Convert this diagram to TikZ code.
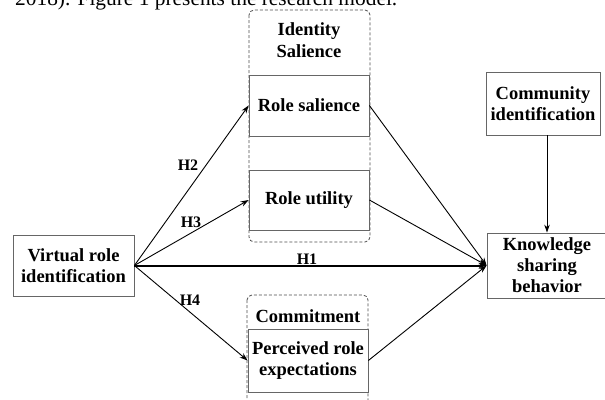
\documentclass[tikz,border=0pt]{standalone}
\usepackage{fontspec}
\setmainfont{Liberation Serif}
\usetikzlibrary{arrows.meta,calc}
\begin{document}
\begin{tikzpicture}[x=1pt,y=-1pt,
  box/.style={draw=black!60,line width=0.8pt,fill=white,minimum width=#1,inner sep=0pt,align=center,
    font=\bfseries\fontsize{18.5}{21}\selectfont},
  grp/.style={draw=black!70,dash pattern=on 3pt off 2pt,line width=0.8pt,rounded corners=5pt},
  conn/.style={line width=0.9pt,-{Stealth[length=8pt,width=5.5pt]}},
  hlab/.style={font=\bfseries\fontsize{16}{18}\selectfont,inner sep=0pt}]
\useasboundingbox (0,0) rectangle (605,399);
\node[anchor=base west,inner sep=0pt,font=\fontsize{21.4}{24}\selectfont] (cap) at (15,5) {2018). Figure 1 presents the research model.};
% groups
\draw[grp] (249,10) rectangle (370,242);
\draw[grp] (247,295) rectangle (368,420);
\node[align=center,inner sep=0pt,font=\bfseries\fontsize{18.5}{22}\selectfont] (idsal) at (309,40) {Identity\\Salience};
\node[inner sep=0pt,font=\bfseries\fontsize{18.5}{21}\selectfont] (commit) at (308,316) {Commitment};
% boxes
\node[box=121pt,minimum height=61pt] (vri) at (73.5,265.5) {Virtual role\\identification};
\node[box=120pt,minimum height=61pt] (rs) at (309,105.5) {Role salience};
\node[box=120pt,minimum height=60pt] (ru) at (309,200) {Role utility};
\node[box=120pt,minimum height=63pt] (pre) at (308,360.5) {Perceived role\\expectations};
\node[box=120pt,minimum height=65pt] (ksb) at (547,265.5) {Knowledge\\sharing\\behavior};
\node[box=114pt,minimum height=63pt] (ci) at (543,103.5) {Community\\identification};
% connectors
\draw[conn] (vri.east) -- (rs.west);
\draw[conn] (vri.east) -- (ru.west);
\draw[conn] (vri.east) -- (pre.west);
\draw[conn,line width=2pt] (vri.east) -- (ksb.west);
\draw[conn] (rs.east) -- (ksb.west);
\draw[conn] (ru.east) -- (ksb.west);
\draw[conn] (pre.east) -- (ksb.west);
\draw[conn] (ci.south -| ksb.north) -- (ksb.north);
% labels
\node[hlab] (h2) at (188,165) {H2};
\node[hlab] (h3) at (191,222) {H3};
\node[hlab] (h1) at (307,259) {H1};
\node[hlab] (h4) at (190,300) {H4};
\end{tikzpicture}
\end{document}
